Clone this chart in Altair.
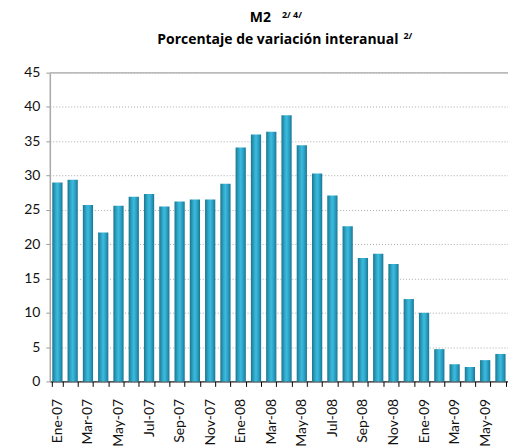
import altair as alt
import pandas as pd

months = ["Ene-07","Feb-07","Mar-07","Abr-07","May-07","Jun-07","Jul-07","Ago-07","Sep-07","Oct-07","Nov-07","Dic-07",
          "Ene-08","Feb-08","Mar-08","Abr-08","May-08","Jun-08","Jul-08","Ago-08","Sep-08","Oct-08","Nov-08","Dic-08",
          "Ene-09","Feb-09","Mar-09","Abr-09","May-09","Jun-09"]
values = [29.0, 29.4, 25.7, 21.7, 25.6, 26.9, 27.3, 25.5, 26.2, 26.5, 26.5, 28.8,
          34.1, 36.0, 36.4, 38.8, 34.4, 30.3, 27.1, 22.6, 18.0, 18.6, 17.1, 12.0,
          10.0, 4.7, 2.5, 2.1, 3.1, 4.0]
shown_labels = months[::2]
y_ticks = [0, 5, 10, 15, 20, 25, 30, 35, 40, 45]

df = pd.DataFrame({"mes": months, "valor": values})

FONT = "Lato"
TFONT = "Open Sans"

grad = alt.Gradient(
    gradient="linear",
    stops=[
        alt.GradientStop(color="#1b7590", offset=0),
        alt.GradientStop(color="#2ea6c4", offset=0.3),
        alt.GradientStop(color="#3bbbe0", offset=0.5),
        alt.GradientStop(color="#2a9fc2", offset=0.75),
        alt.GradientStop(color="#1b7592", offset=1),
    ],
    x1=0, x2=1, y1=0, y2=0,
)

label_expr = "indexof([" + ",".join(f"'{m}'" for m in shown_labels) + "], datum.value) >= 0 ? datum.value : ''"

bars = alt.Chart(df).mark_bar(color=grad).encode(
    x=alt.X("mes:N", sort=months,
            scale=alt.Scale(paddingInner=0.33, paddingOuter=0.16),
            axis=alt.Axis(title=None, labelAngle=-90, labelAlign="right", labelBaseline="middle",
                          labelExpr=label_expr, labelFont=FONT, labelFontSize=14, labelColor="#111",
                          tickBand="extent", tickSize=5, tickColor="#000", domainColor="#000",
                          labelPadding=12, grid=False, labelOverlap=False)),
    y=alt.Y("valor:Q", scale=alt.Scale(domain=[0, 45], nice=False),
            axis=alt.Axis(title=None, values=y_ticks, labelFont=FONT, labelFontSize=14,
                          labelColor="#111", tickColor="#999", tickSize=4, domainColor="#aaa",
                          domainWidth=1.5, gridColor="#a8a8a8", gridDash=[1, 2], labelPadding=6,
                          labelOverlap=False)),
)

top_rule = alt.Chart(pd.DataFrame({"k": [1]})).mark_rule(color="#bbbbbb", strokeWidth=1.5).encode(
    y=alt.value(0), x=alt.value(0), x2=alt.value(460))

t_main1 = alt.Chart(pd.DataFrame({"t": ["M2"]})).mark_text(
    font=TFONT, fontSize=14, fontWeight="bold", align="right", baseline="middle", color="#000"
).encode(text="t:N", x=alt.value(222), y=alt.value(-55))
t_sup1 = alt.Chart(pd.DataFrame({"t": ["2/ 4/"]})).mark_text(
    font=TFONT, fontSize=9, fontWeight="bold", align="left", baseline="middle", color="#000"
).encode(text="t:N", x=alt.value(233), y=alt.value(-58))
t_main2 = alt.Chart(pd.DataFrame({"t": ["Porcentaje de variación interanual"]})).mark_text(
    font=TFONT, fontSize=14, fontWeight="bold", align="right", baseline="middle", color="#000"
).encode(text="t:N", x=alt.value(350), y=alt.value(-33))
t_sup2 = alt.Chart(pd.DataFrame({"t": ["2/"]})).mark_text(
    font=TFONT, fontSize=9, fontWeight="bold", align="left", baseline="middle", color="#000"
).encode(text="t:N", x=alt.value(355), y=alt.value(-37))

chart = alt.layer(bars, top_rule, t_main1, t_sup1, t_main2, t_sup2).properties(
    width=460, height=310,
    autosize=alt.AutoSizeParams(type="none"),
    padding={"left": 42, "top": 64, "right": 0, "bottom": 70},
).configure_view(stroke=None).configure(background="white")

chart.save("out.html", embed_options={"renderer": "svg", "actions": False})
